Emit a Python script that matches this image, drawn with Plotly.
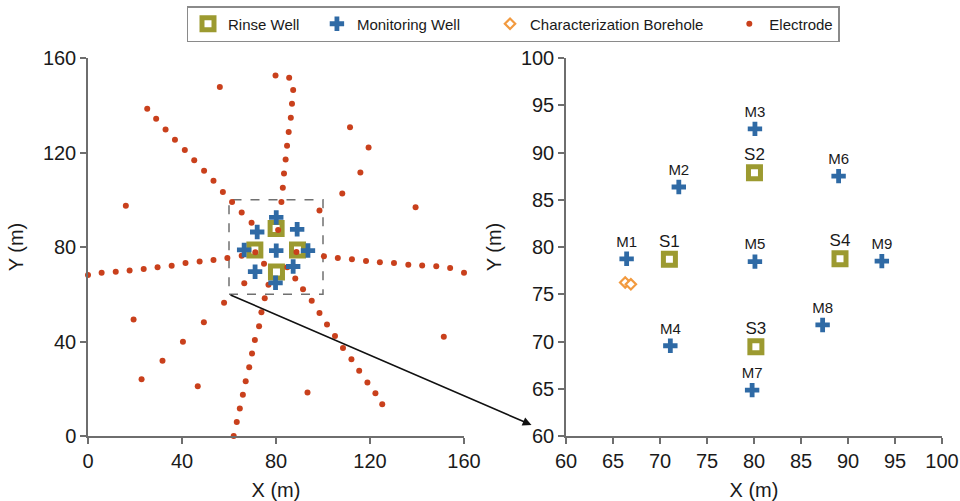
import plotly.graph_objects as go

# ---------------- data ----------------
# Electrodes (overview panel), X and Y in metres
elec_x = [
    # west line
    0.0, 5.8, 11.8, 17.7, 23.7, 29.6, 35.6, 41.5, 47.5, 53.4, 59.3, 65.4, 71.2,
    # east line
    160.0, 154.1, 148.2, 142.2, 136.3, 130.2, 124.2, 118.3, 112.3, 106.3, 100.4, 88.7,
    # north line
    79.8, 85.6, 87.3, 86.8, 86.3, 85.4, 84.7, 84.1, 83.4, 82.9, 82.3, 80.9,
    # north-west line
    25.2, 29.0, 33.0, 37.0, 41.2, 45.2, 49.4, 53.4, 57.4, 61.3, 65.4, 69.6,
    # south line
    62.0, 63.3, 64.6, 65.9, 67.1, 68.6, 69.8, 71.0, 72.8, 73.8, 75.2, 76.8,
    # south-east line
    125.2, 122.3, 118.9, 115.4, 112.1, 108.5, 105.1, 101.7, 98.5, 95.2, 91.5, 88.2, 84.8,
    # south-west line
    22.8, 31.7, 40.4, 49.3, 57.9, 66.5, 74.9,
    # scattered electrodes
    98.5, 108.2, 115.9, 119.4, 111.5, 139.4, 16.1, 56.1, 19.4, 46.7, 93.4, 151.4,
]
elec_y = [
    68.1, 69.1, 69.5, 70.1, 70.7, 71.4, 72.1, 73.2, 73.9, 74.5, 75.3, 76.3, 77.8,
    69.1, 71.1, 71.8, 72.2, 72.5, 73.2, 73.5, 74.1, 74.8, 75.3, 76.1, 77.9,
    152.6, 151.6, 146.5, 140.6, 134.7, 128.7, 122.9, 117.0, 111.1, 105.1, 99.0, 87.2,
    138.5, 134.3, 129.7, 125.4, 121.1, 116.7, 112.3, 108.0, 103.3, 99.0, 94.6, 90.3,
    0.0, 5.9, 11.6, 17.5, 23.2, 29.1, 34.9, 40.6, 46.5, 52.4, 58.3, 64.0,
    13.4, 18.1, 22.6, 27.6, 32.5, 37.3, 42.3, 47.2, 52.1, 57.2, 62.1, 66.7, 71.4,
    24.0, 31.8, 39.9, 48.1, 56.4, 64.7, 72.9,
    95.5, 102.6, 111.5, 122.1, 130.7, 96.8, 97.5, 147.7, 49.3, 21.1, 18.4, 42.0,
]

# Rinse wells
rinse_names = ["S1", "S2", "S3", "S4"]
rinse_x = [71.0, 80.05, 80.2, 89.15]
rinse_y = [78.7, 87.85, 69.45, 78.75]

# Monitoring wells
mon_names = ["M1", "M2", "M3", "M4", "M5", "M6", "M7", "M8", "M9"]
mon_x = [66.45, 72.0, 80.1, 71.1, 80.1, 89.0, 79.8, 87.3, 93.6]
mon_y = [78.75, 86.35, 92.5, 69.55, 78.45, 87.5, 64.85, 71.75, 78.5]

# Characterization boreholes
char_x = [66.3, 66.9]
char_y = [76.25, 76.05]

# Axis ticks
left_ticks = [0, 40, 80, 120, 160]
right_ticks = [60, 65, 70, 75, 80, 85, 90, 95, 100]

# zoom window (dashed box)
box_x = [60, 100]
box_y = [60, 100]

# ---------------- styling ----------------
OLIVE = "#9c9a30"
BLUE = "#2f6aa5"
ORANGE = "#f29a3f"
RED = "#c9401c"
AXC = "#6e6e6e"
FONT = "Liberation Sans, Arial, sans-serif"
NB = "\u00a0"

fig = go.Figure()

rinse_marker = dict(symbol="square", size=12, color="white",
                    line=dict(color=OLIVE, width=5))
mon_marker = dict(symbol="cross", size=12, color=BLUE, line=dict(width=0))
char_marker = dict(symbol="diamond", size=8, color="white",
                   line=dict(color=ORANGE, width=2.2))
elec_marker = dict(symbol="circle", size=6, color=RED, line=dict(width=0))

# left panel
fig.add_trace(go.Scatter(x=rinse_x, y=rinse_y, mode="markers", name="Rinse Well" + NB * 3,
                         marker=rinse_marker, xaxis="x", yaxis="y",
                         legendrank=1, cliponaxis=False))
fig.add_trace(go.Scatter(x=elec_x, y=elec_y, mode="markers", name="Electrode",
                         marker=elec_marker, xaxis="x", yaxis="y",
                         legendrank=4, cliponaxis=False))
fig.add_trace(go.Scatter(x=mon_x, y=mon_y, mode="markers", name="Monitoring Well" + NB * 6,
                         marker=mon_marker, xaxis="x", yaxis="y",
                         legendrank=2, cliponaxis=False))

# right panel
fig.add_trace(go.Scatter(x=rinse_x, y=rinse_y, mode="markers+text", text=rinse_names,
                         textposition="top center",
                         textfont=dict(size=17, color="#1a1a1a", family=FONT),
                         marker=rinse_marker, xaxis="x2", yaxis="y2",
                         showlegend=False, cliponaxis=False))
fig.add_trace(go.Scatter(x=mon_x, y=mon_y, mode="markers+text", text=mon_names,
                         textposition="top center",
                         textfont=dict(size=15, color="#1a1a1a", family=FONT),
                         marker=mon_marker, xaxis="x2", yaxis="y2",
                         showlegend=False, cliponaxis=False))
fig.add_trace(go.Scatter(x=char_x, y=char_y, mode="markers",
                         name="Characterization Borehole" + NB * 5,
                         marker=char_marker, xaxis="x2", yaxis="y2",
                         legendrank=3, cliponaxis=False))

# dashed zoom box
fig.add_shape(type="rect", xref="x", yref="y", x0=box_x[0], x1=box_x[1],
              y0=box_y[0], y1=box_y[1], line=dict(color="#707070", width=1.5, dash="dash"),
              layer="below")

L, R, T, B = 88, 18, 58, 65
W, H = 960, 501
pw = W - L - R
ph = H - T - B
d1 = (464 - L) / pw
d2 = (566 - L) / pw

# arrow from the box corner (left panel) to the zoom panel origin
head_px, head_py = 531.5, 425.0
tail_px = L + box_x[0] / 160 * (464 - L)
tail_py = T + (1 - box_y[0] / 160) * ph
fig.add_annotation(xref="paper", yref="paper",
                   x=(head_px - L) / pw, y=1 - (head_py - T) / ph, text="",
                   showarrow=True, axref="pixel", ayref="pixel",
                   ax=tail_px - head_px, ay=tail_py - head_py,
                   arrowhead=2, arrowsize=1.1, arrowwidth=1.6, arrowcolor="#111111")

axis_common = dict(showgrid=False, zeroline=False, showline=True, linecolor=AXC,
                   linewidth=1.5, ticks="outside", ticklen=6, tickcolor=AXC,
                   tickwidth=1.5, tickfont=dict(size=20, color="#1a1a1a", family=FONT),
                   title_font=dict(size=20, color="#1a1a1a", family=FONT),
                   automargin=False)

fig.update_layout(
    width=W, height=H,
    margin=dict(l=L, r=R, t=T, b=B, autoexpand=False),
    paper_bgcolor="white", plot_bgcolor="white",
    font=dict(family=FONT, color="#1a1a1a"),
    xaxis=dict(domain=[0, d1], range=[0, 160], tickvals=left_ticks,
               title=dict(text="X (m)", standoff=14), anchor="y", **axis_common),
    yaxis=dict(domain=[0, 1], range=[0, 160], tickvals=left_ticks,
               title=dict(text="Y (m)", standoff=14), anchor="x", **axis_common),
    xaxis2=dict(domain=[d2, 1], range=[60, 100], tickvals=right_ticks,
                title=dict(text="X (m)", standoff=14), anchor="y2", **axis_common),
    yaxis2=dict(domain=[0, 1], range=[60, 100], tickvals=right_ticks,
                title=dict(text="Y (m)", standoff=14), anchor="x2", **axis_common),
    legend=dict(orientation="h", x=(513 - L) / pw, xanchor="center",
                y=1 + (T - 6) / ph, yanchor="top",
                bordercolor="#8a8a8a", borderwidth=1.5,
                font=dict(size=15, color="#1a1a1a", family=FONT),
                bgcolor="white", itemclick=False),
)

fig.write_html("out.html",
               config={"displayModeBar": False},
               post_script="document.body.style.margin='0';document.body.style.overflow='hidden';")
